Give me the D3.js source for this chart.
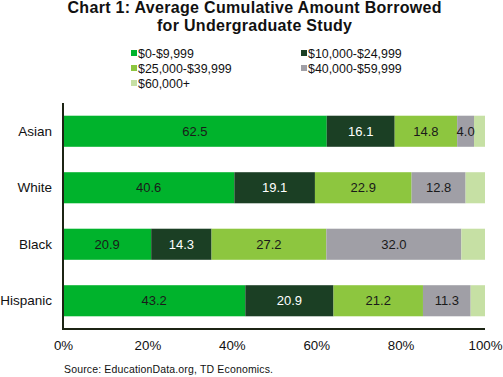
<!DOCTYPE html>
<html><head><meta charset="utf-8">
<script src="https://cdn.jsdelivr.net/npm/d3@7"></script>
<style>
html,body{margin:0;padding:0;background:#fff;}
svg{display:block;font-family:"Liberation Sans",Arial,sans-serif;}
</style></head>
<body>
<svg id="chart" width="503" height="377"></svg>
<script>
const categories = ["Asian", "White", "Black", "Hispanic"];
const seriesNames = ["$0-$9,999", "$10,000-$24,999", "$25,000-$39,999", "$40,000-$59,999", "$60,000+"];
const s0 = [62.5, 40.6, 20.9, 43.2];
const s1 = [16.1, 19.1, 14.3, 20.9];
const s2 = [14.8, 22.9, 27.2, 21.2];
const s3 = [4.0, 12.8, 32.0, 11.3];
const s4 = [2.6, 4.6, 5.6, 3.4];
const showLabel = [true, true, true, true, false];
const colors = ["#00b32c", "#1b3f24", "#8dc63f", "#a09fa6", "#c6e0a4"];
const labelColors = ["#1a1a1a", "#ffffff", "#1a1a1a", "#1a1a1a", "#1a1a1a"];
const tickValues = [0, 20, 40, 60, 80, 100];

const seriesValues = [s0, s1, s2, s3, s4];
const rows = categories.map((c, i) => {
  const o = {cat: c};
  seriesNames.forEach((s, k) => o[s] = seriesValues[k][i]);
  return o;
});
const stack = d3.stack().keys(seriesNames)(rows);

const svg = d3.select("#chart");
const pL = 63, pR = 485, pT = 103, pB = 329;
const x = d3.scaleLinear().domain([0, 100]).range([pL, pR]);
const y = d3.scaleBand().domain(categories).range([pT, pB]).paddingInner(0.45).paddingOuter(0.225);

// title
const title = svg.append("g").attr("font-weight", "bold").attr("font-size", 16).attr("text-anchor", "middle").attr("fill", "#111");
title.append("text").attr("x", 254.5).attr("y", 13).attr("textLength", 374).attr("lengthAdjust", "spacing").text("Chart 1: Average Cumulative  Amount Borrowed");
title.append("text").attr("x", 254.5).attr("y", 31).attr("textLength", 195).attr("lengthAdjust", "spacing").text("for Undergraduate Study");

// legend
const legendPos = [[131, 53], [301, 53], [131, 68], [301, 68], [131, 83]];
const lg = svg.append("g").attr("font-size", 12.4).attr("fill", "#111");
seriesNames.forEach((s, k) => {
  const [lx, ly] = legendPos[k];
  lg.append("rect").attr("x", lx).attr("y", ly - 3).attr("width", 6).attr("height", 6).attr("fill", colors[k]);
  lg.append("text").attr("x", lx + 7).attr("y", ly + 4.5).text(s);
});

// bars
const groups = svg.append("g").selectAll("g").data(stack).join("g").attr("fill", (d, k) => colors[k]);
groups.selectAll("rect").data(d => d).join("rect")
  .attr("x", d => x(d[0])).attr("width", d => x(d[1]) - x(d[0]))
  .attr("y", d => y(d.data.cat)).attr("height", y.bandwidth());

// labels
stack.forEach((layer, k) => {
  if (!showLabel[k]) return;
  svg.append("g").selectAll("text").data(layer).join("text")
    .attr("x", d => (x(d[0]) + x(d[1])) / 2)
    .attr("y", d => y(d.data.cat) + y.bandwidth() / 2 + 4.5)
    .attr("text-anchor", "middle").attr("font-size", 13).attr("fill", labelColors[k])
    .text(d => (d[1] - d[0]).toFixed(1));
});

// axes
const xAxis = d3.axisBottom(x).tickValues(tickValues).tickFormat(d => d + "%").tickSize(0).tickPadding(12);
const gx = svg.append("g").attr("transform", `translate(0,${pB})`).call(xAxis);
gx.select(".domain").remove();
gx.selectAll("text").attr("font-size", 13.3).attr("fill", "#111").attr("font-family", "Liberation Sans, Arial, sans-serif");

const yAxis = d3.axisLeft(y).tickSize(0).tickPadding(11);
const gy = svg.append("g").attr("transform", `translate(${pL},0)`).call(yAxis);
gy.select(".domain").remove();
gy.selectAll("text").attr("font-size", 13.5).attr("fill", "#111").attr("font-family", "Liberation Sans, Arial, sans-serif");

svg.append("path").attr("d", `M${pL},${pT}V${pB}H${pR}`).attr("fill", "none").attr("stroke", "#1c2414").attr("stroke-width", 2);

// source
svg.append("text").attr("x", 64).attr("y", 373).attr("font-size", 10.5).attr("fill", "#111")
  .attr("textLength", 209).attr("lengthAdjust", "spacing").text("Source:  EducationData.org,   TD Economics.");
</script>
</body></html>
